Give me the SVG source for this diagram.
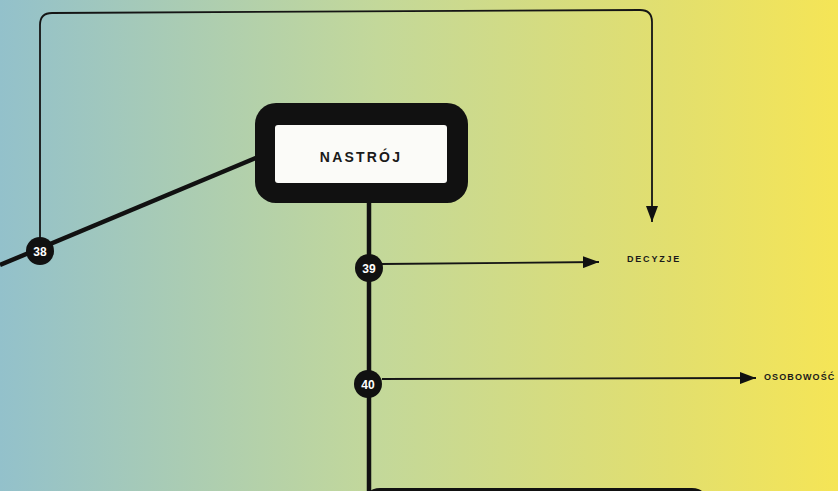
<svg xmlns="http://www.w3.org/2000/svg" width="838" height="491" viewBox="0 0 838 491">
  <defs>
    <linearGradient id="bg" x1="0" y1="0" x2="1" y2="0">
      <stop offset="0" stop-color="#93c1cb"/>
      <stop offset="0.45" stop-color="#c3d89a"/>
      <stop offset="0.8" stop-color="#e2df6e"/>
      <stop offset="1" stop-color="#f5e556"/>
    </linearGradient>
    <marker id="arr" viewBox="0 0 16 12" refX="16" refY="6" markerWidth="16" markerHeight="12" markerUnits="userSpaceOnUse" orient="auto">
      <path d="M0,0 L16,6 L0,12 Z" fill="#111"/>
    </marker>
    <style>
      .thin { fill: none; stroke: #151515; stroke-width: 1.8; }
      .thick { fill: none; stroke: #111; stroke-width: 4.5; }
      .num { fill: #111; }
      .numt { font-family: "Liberation Sans", Arial, sans-serif; font-weight: bold; font-size: 12px; fill: #fff; text-anchor: middle; }
      .lbl { font-family: "Liberation Sans", Arial, sans-serif; font-weight: bold; font-size: 9px; letter-spacing: 1.8px; fill: #1a1a1a; }
      .title { font-family: "Liberation Sans", Arial, sans-serif; font-weight: bold; font-size: 14px; letter-spacing: 2.2px; fill: #1a1a1a; text-anchor: middle; }
    </style>
  </defs>
  <rect width="838" height="491" fill="url(#bg)"/>

  <g id="connectors">
    <path class="thick" d="M0,265 L258,157"/>
    <path class="thick" d="M369,203 L369,491"/>
    <path class="thin" d="M40,238 L40,25 Q40,13 52,13 L640,10 Q652,10 652,22 L652,222" marker-end="url(#arr)"/>
    <path class="thin" d="M382,264 L599,262" marker-end="url(#arr)"/>
    <path class="thin" d="M382,379 L756,378" marker-end="url(#arr)"/>
  </g>

  <g id="nastroj">
    <rect x="255" y="103" width="213" height="100" rx="21" fill="#111"/>
    <rect x="275" y="125" width="172" height="58" rx="3" fill="#fbfbf8"/>
    <text class="title" x="361" y="162">NASTRÓJ</text>
  </g>

  <g id="n38">
    <circle class="num" cx="40" cy="251" r="14"/>
    <text class="numt" x="40" y="255.5">38</text>
  </g>
  <g id="n39">
    <circle class="num" cx="369" cy="268" r="14"/>
    <text class="numt" x="369" y="272.5">39</text>
  </g>
  <g id="n40">
    <circle class="num" cx="368" cy="384" r="14"/>
    <text class="numt" x="368" y="388.5">40</text>
  </g>

  <g id="decyzje">
    <text class="lbl" x="627" y="262">DECYZJE</text>
  </g>
  <g id="osobowosc">
    <text class="lbl" x="764" y="380" style="letter-spacing:1.1px">OSOBOWOŚĆ</text>
  </g>

  <g id="next-node">
    <rect x="362" y="488" width="348" height="40" rx="18" fill="#111"/>
  </g>
</svg>
